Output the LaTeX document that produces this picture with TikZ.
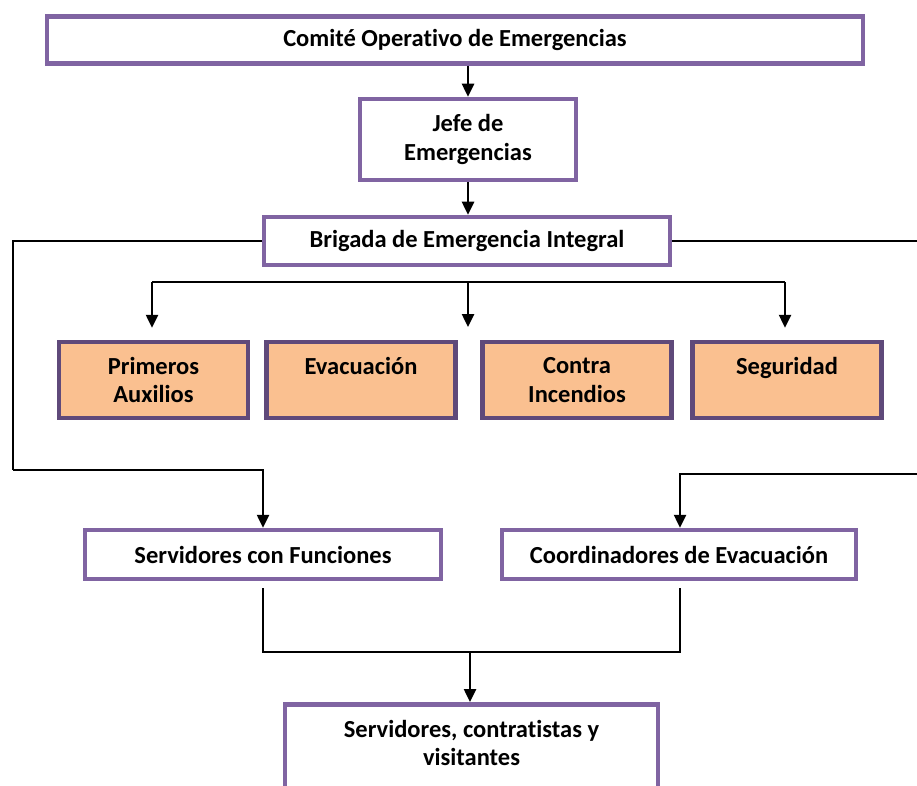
\documentclass[tikz,border=0pt]{standalone}
\usepackage{fontspec}
\setmainfont{Carlito}[Ligatures=NoCommon]
\usetikzlibrary{arrows.meta}
\definecolor{boxpurple}{HTML}{8064A2}
\definecolor{darkpurple}{HTML}{5F497A}
\definecolor{boxorange}{HTML}{FAC090}
\begin{document}
\begin{tikzpicture}[x=1pt,y=-1pt,
  txt/.style={font=\bfseries\fontsize{24.5}{28.5}\selectfont, align=center, inner sep=0pt},
  wbox/.style={txt, draw=boxpurple, line width=4.5pt, fill=white},
  obox/.style={txt, draw=darkpurple, line width=4.5pt, fill=boxorange, minimum width=189pt, minimum height=76pt},
  conn/.style={black, line width=2pt},
  thin/.style={black, line width=1.5pt},
  arr/.style={black, line width=2.5pt, -{Triangle[width=12pt,length=13pt]}}
]
\useasboundingbox (0,0) rectangle (917,786);

\node[wbox, minimum width=816pt, minimum height=47pt] (A) at (455,40) {Comité Operativo de Emergencias};
\node[wbox, minimum width=216pt, minimum height=81pt] (B) at (468,139.5) {Jefe de\\Emergencias};
\node[wbox, minimum width=406pt, minimum height=48pt] (C) at (467,241) {Brigada de Emergencia Integral};

\node[obox] (P1) at (153.5,380) {Primeros\\Auxilios};
\node[obox] (P2) at (361,380) {Evacuación\\\mbox{}};
\node[obox] (P3) at (577,380) {Contra\\Incendios};
\node[obox] (P4) at (787,380) {Seguridad\\\mbox{}};

\node[wbox, minimum width=356pt, minimum height=49pt] (SF) at (263,554.5) {Servidores con Funciones};
\node[wbox, minimum width=354pt, minimum height=49pt] (CE) at (679,554.5) {Coordinadores de Evacuación};
\node[wbox, minimum width=373pt, anchor=north, inner ysep=16pt] (S) at (471.5,702) {Servidores, contratistas y\\visitantes\rule[-45pt]{0pt}{0pt}};

% top chain
\draw[arr] (A.south -| B.north) -- (B.north);
\draw[arr] (B.south) -- (B.south |- C.north);

% bus to brigades
\coordinate (bl) at (152,282);
\coordinate (bm) at (468,282);
\coordinate (br) at (785,282);
\coordinate (bmEnd) at (468,327);
\draw[thin] (bl) -- (br);
\draw[arr, shorten >=12pt] (bl) -- (bl |- P1.north);
\draw[arr] (bm) -- (bmEnd);
\draw[arr, shorten >=12pt] (br) -- (br |- P4.north);

% left loop
\coordinate (L1) at (13,470);
\draw[conn] (C.west) -| (L1);
\draw[arr] (L1) -| (SF.north);

% right loop
\coordinate (R1) at (920,241);
\coordinate (R2) at (920,474);
\draw[conn] (C.east) -- (R1);
\draw[arr] (R2) -| ([xshift=1pt]CE.north);

% bottom merge
\coordinate (M) at (470,652);
\draw[conn, shorten <=7pt, shorten >=7pt] (SF.south) |- (M) -| ([xshift=1pt]CE.south);
\draw[arr] (M) -- (M |- S.north);
\end{tikzpicture}
\end{document}
